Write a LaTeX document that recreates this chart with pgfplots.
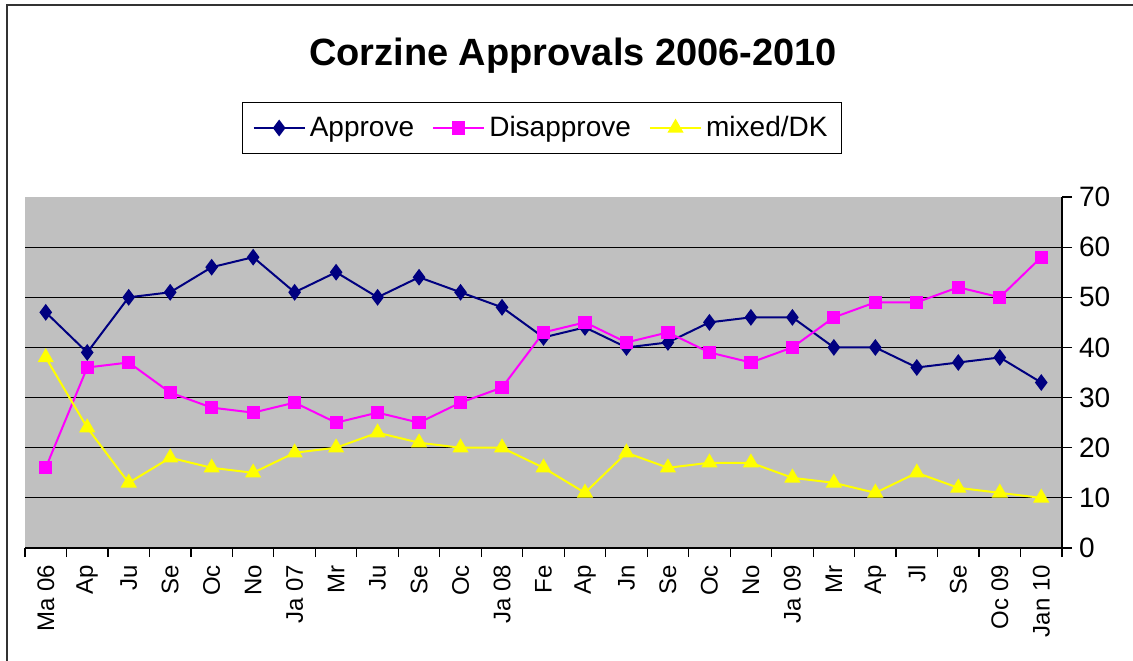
\documentclass[border=0pt]{standalone}
\usepackage{fontspec}
\setmainfont{Liberation Sans}
\usepackage{pgfplots}
\pgfplotsset{compat=1.18}

\definecolor{apcol}{HTML}{000080}
\definecolor{discol}{HTML}{FF00FF}
\definecolor{mixcol}{HTML}{FFFF00}
\definecolor{plotbg}{HTML}{C0C0C0}

\begin{document}
\begin{tikzpicture}
\begin{axis}[
  at={(12.5pt,56pt)}, anchor=south west,
  scale only axis,
  width=518.5pt, height=175.5pt,
  xmin=-0.5, xmax=24.5,
  ymin=0, ymax=70,
  axis x line*=bottom,
  axis y line*=right,
  axis line style={black, line width=0.7pt},
  axis background/.style={fill=plotbg},
  xtick={0,...,24},
  xticklabels={Ma 06,Ap,Ju,Se,Oc,No,Ja 07,Mr,Ju,Se,Oc,Ja 08,Fe,Ap,Jn,Se,Oc,No,Ja 09,Mr,Ap,Jl,Se,Oc 09,Jan 10},
  x tick label style={rotate=90, anchor=east, font=\fontsize{12}{14}\selectfont},
  major x tick style={draw=none},
  minor xtick={-0.5,0.5,...,24.5},
  minor tick length=4.5pt,
  minor x tick style={black, line width=0.6pt},
  ytick={0,10,...,70},
  yticklabel pos=right,
  y tick label style={font=\fontsize{14}{16}\selectfont},
  major y tick style={black, line width=0.6pt},
  major tick length=5pt,
  tick align=outside,
  /pgf/number format/assume math mode=true,
  extra y ticks={10,20,...,60},
  extra y tick labels={},
  extra y tick style={grid=major, major tick length=0pt},
  grid style={black, line width=0.6pt},
  legend columns=3,
  legend style={
    at={(0.4986,1.1966)}, anchor=center,
    draw=black, fill=white, line width=0.5pt,
    font=\fontsize{14}{16}\selectfont,
    inner xsep=5pt, inner ysep=5pt,
    /tikz/every even column/.append style={column sep=7pt},
  },
  legend image code/.code={%
    \draw[mark repeat=2,mark phase=2] plot coordinates {(0cm,0cm) (0.45cm,0cm) (0.9cm,0cm)};},
  clip=false,
]
\addplot[apcol, line width=1pt, mark=diamond*, mark size=3.4pt, mark options={fill=apcol}]
  coordinates {(0,47) (1,39) (2,50) (3,51) (4,56) (5,58) (6,51) (7,55) (8,50) (9,54) (10,51) (11,48) (12,42) (13,44) (14,40) (15,41) (16,45) (17,46) (18,46) (19,40) (20,40) (21,36) (22,37) (23,38) (24,33)};
\addlegendentry{Approve}
\addplot[discol, line width=1pt, mark=square*, mark size=2.8pt, mark options={fill=discol}]
  coordinates {(0,16) (1,36) (2,37) (3,31) (4,28) (5,27) (6,29) (7,25) (8,27) (9,25) (10,29) (11,32) (12,43) (13,45) (14,41) (15,43) (16,39) (17,37) (18,40) (19,46) (20,49) (21,49) (22,52) (23,50) (24,58)};
\addlegendentry{Disapprove}
\addplot[mixcol, line width=1pt, mark=triangle*, mark size=3.7pt, mark options={fill=mixcol}]
  coordinates {(0,38) (1,24) (2,13) (3,18) (4,16) (5,15) (6,19) (7,20) (8,23) (9,21) (10,20) (11,20) (12,16) (13,11) (14,19) (15,16) (16,17) (17,17) (18,14) (19,13) (20,11) (21,15) (22,12) (23,11) (24,10)};
\addlegendentry{mixed/DK}
\end{axis}
\node[font=\fontsize{19}{22}\selectfont\bfseries] at (286.5pt,302pt) {Corzine Approvals 2006-2010};
\draw[line width=1.2pt, black!80] (3.5pt,-2pt) -- (3.5pt,327.5pt) -- (568pt,327.5pt);
\pgfresetboundingbox
\useasboundingbox (0,0) rectangle (566.5pt,330pt);
\end{tikzpicture}
\end{document}
